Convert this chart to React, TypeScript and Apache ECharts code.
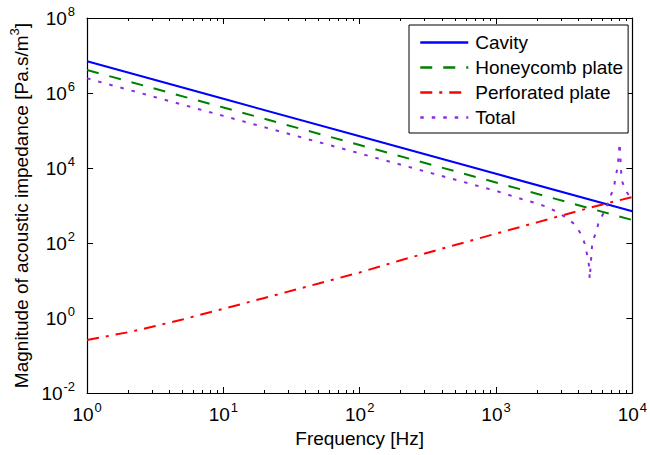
import React, { useEffect, useRef } from "react";
import * as echarts from "echarts";

const FONT = "'Liberation Sans', Arial, Helvetica, sans-serif";

// Frequency grids [Hz] and impedance magnitudes [Pa.s/m^3]
const cavityFreq = [1, 10, 100, 1000, 10000];
const cavityZ = [7.0e6, 7.0e5, 7.0e4, 7.0e3, 700];

const honeyFreq = [1, 10, 100, 1000, 10000];
const honeyZ = [4.1e6, 4.1e5, 4.1e4, 4.1e3, 410];

const perfFreq = [1, 2, 3, 5, 10, 20, 50, 100, 200, 500, 1000, 2000, 5000, 10000];
const perfZ = [0.26, 0.417, 0.582, 0.912, 1.76, 3.43, 8.32, 16.4, 34.7, 88.1, 178, 355, 891, 1690];

const totalFreq = [
  1, 10, 100, 1000, 1622, 1945, 2372, 2800, 3300, 3830, 4235, 4520, 4670, 4830,
  4870, 5080, 5420, 5700, 6290, 6730, 7310, 7550, 7800, 7930, 8070, 8340, 8910,
  9680, 10000,
];
const totalZ = [
  2.45e6, 2.45e5, 2.45e4, 2450, 1400, 1166, 912, 671, 464, 302, 163, 88, 45, 23,
  11, 100, 197, 386, 713, 1400, 2930, 5750, 10600, 19600, 46400, 4790, 2590,
  1585, 1400,
];

const seriesNames = ["Cavity", "Honeycomb plate", "Perforated plate", "Total"];

// Tick positions
const xMajorTicks = [1, 10, 100, 1000, 10000];
const xMinorTicks = [
  2, 3, 4, 5, 6, 7, 8, 9, 20, 30, 40, 50, 60, 70, 80, 90, 200, 300, 400, 500,
  600, 700, 800, 900, 2000, 3000, 4000, 5000, 6000, 7000, 8000, 9000,
];
const yMajorTicks = [0.01, 1, 100, 1e4, 1e6, 1e8];

const zip = (xs: number[], ys: number[]) => xs.map((x, i) => [x, ys[i]]);

const powLabel = (v: number) => {
  const e = Math.round(Math.log10(v));
  return `{b|10}{s|${e}}`;
};

const labelRich = {
  b: { fontSize: 19, fontFamily: FONT, color: "#000" },
  s: { fontSize: 13, fontFamily: FONT, color: "#000", padding: [0, 0, 14, 1] },
};

export default function App() {
  const ref = useRef<HTMLDivElement>(null);

  useEffect(() => {
    if (!ref.current) return;
    const chart = echarts.init(ref.current, undefined, { renderer: "svg" });

    const baseX = {
      type: "log" as const,
      min: 1,
      max: 10000,
      splitLine: { show: false },
      axisLine: { show: false },
      axisLabel: { show: false },
    };
    const baseY = {
      type: "log" as const,
      min: 0.01,
      max: 1e8,
      splitLine: { show: false },
      axisLine: { show: false },
      axisLabel: { show: false },
    };
    const tick = (vals: number[], len: number) => ({
      show: true,
      inside: true,
      length: len,
      customValues: vals,
      lineStyle: { color: "#000", width: 1 },
    });
    const line = { show: true, onZero: false, lineStyle: { color: "#000", width: 1.2 } };

    chart.setOption({
      animation: false,
      backgroundColor: "#fff",
      textStyle: { fontFamily: FONT },
      grid: { left: 80, right: 13, top: 18, bottom: 62, containLabel: false },
      legend: {
        orient: "vertical",
        left: 409,
        top: 25,
        data: seriesNames,
        itemWidth: 48,
        itemHeight: 14,
        itemGap: 0,
        padding: [5, 5, 3, 10],
        borderColor: "#000",
        borderWidth: 1,
        borderRadius: 0,
        backgroundColor: "#fff",
        itemStyle: { opacity: 0 },
        lineStyle: { width: 2.5 },
        textStyle: { fontSize: 19, lineHeight: 25, color: "#000", fontFamily: FONT, padding: [0, 0, 0, 2] },
      },
      xAxis: [
        {
          ...baseX,
          position: "bottom",
          axisLine: line,
          axisTick: tick(xMajorTicks, 6),
          axisLabel: {
            show: true,
            customValues: xMajorTicks,
            formatter: powLabel,
            rich: labelRich,
            margin: 8,
          },
          name: "Frequency [Hz]",
          nameLocation: "middle",
          nameGap: 36,
          nameTextStyle: { fontSize: 19, color: "#000", fontFamily: FONT },
        },
        { ...baseX, position: "bottom", axisTick: tick(xMinorTicks, 3) },
        { ...baseX, position: "top", axisLine: line, axisTick: tick(xMajorTicks, 6) },
        { ...baseX, position: "top", axisTick: tick(xMinorTicks, 3) },
      ],
      yAxis: [
        {
          ...baseY,
          position: "left",
          axisLine: line,
          axisTick: tick(yMajorTicks, 6),
          axisLabel: {
            show: true,
            customValues: yMajorTicks,
            formatter: powLabel,
            rich: labelRich,
            margin: 12,
          },
          name: "{a|Magnitude of acoustic impedance [Pa.s/m}{s|3}{a|]}",
          nameLocation: "middle",
          nameGap: 53,
          nameTextStyle: {
            color: "#000",
            rich: {
              a: { fontSize: 19, fontFamily: FONT, color: "#000" },
              s: { fontSize: 13, fontFamily: FONT, color: "#000", padding: [0, 0, 13, 0] },
            },
          },
        },
        { ...baseY, position: "right", axisLine: line, axisTick: tick(yMajorTicks, 6) },
      ],
      series: [
        {
          name: seriesNames[0],
          type: "line",
          symbol: "none",
          data: zip(cavityFreq, cavityZ),
          lineStyle: { color: "#0000ff", width: 2, type: "solid" },
          itemStyle: { color: "#0000ff" },
        },
        {
          name: seriesNames[1],
          type: "line",
          symbol: "none",
          data: zip(honeyFreq, honeyZ),
          lineStyle: { color: "#008000", width: 2, type: [12, 11] },
          itemStyle: { color: "#008000" },
        },
        {
          name: seriesNames[2],
          type: "line",
          symbol: "none",
          data: zip(perfFreq, perfZ),
          lineStyle: { color: "#ff0000", width: 2, type: [12, 7, 3, 7] },
          itemStyle: { color: "#ff0000" },
        },
        {
          name: seriesNames[3],
          type: "line",
          symbol: "none",
          data: zip(totalFreq, totalZ),
          lineStyle: { color: "#8a2be2", width: 2, type: [3.5, 8] },
          itemStyle: { color: "#8a2be2" },
        },
      ],
    });

    return () => chart.dispose();
  }, []);

  return (
    <div
      ref={ref}
      style={{ position: "fixed", left: 0, top: 0, width: 650, height: 455 }}
    />
  );
}
